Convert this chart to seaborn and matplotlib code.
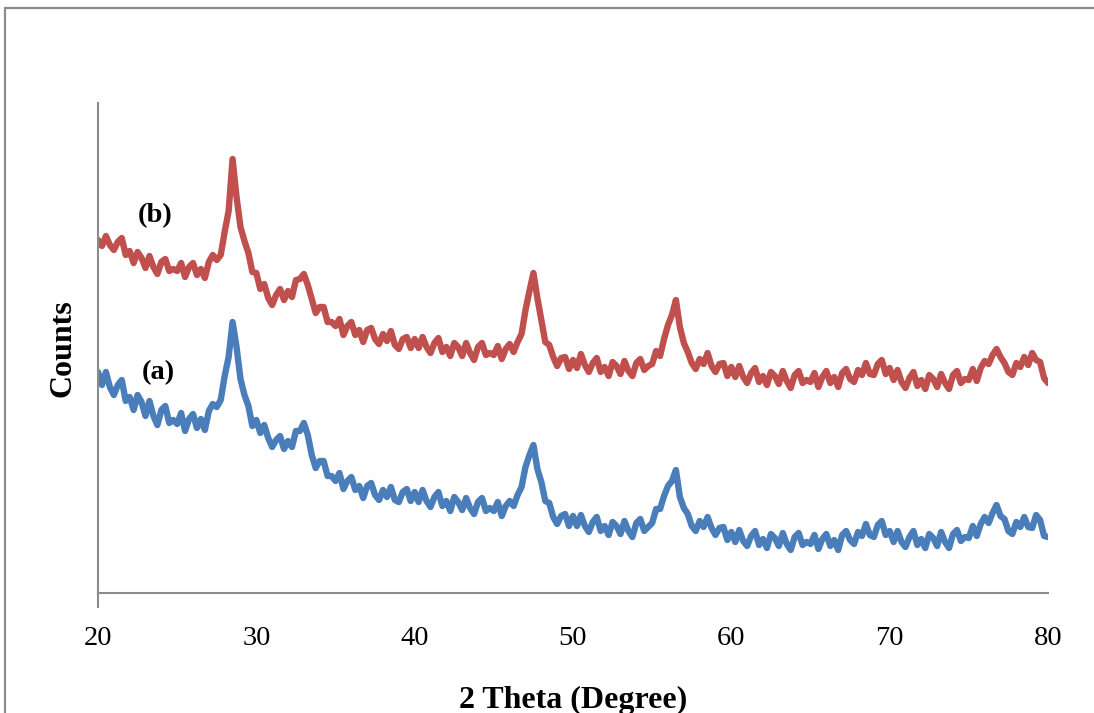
import pandas as pd
import matplotlib.pyplot as plt
import seaborn as sns
from matplotlib.lines import Line2D

# 2 theta grid, 20..80 in 0.25 degree steps
two_theta = [20 + 0.25 * i for i in range(241)]

# Sample (b), red trace (arbitrary counts, offset)
counts_b = [
    353, 347, 357, 348, 343, 351, 355, 338, 342, 330, 341, 335, 325, 337, 326, 319, 331, 334, 322, 324,  # 20-25
    322, 330, 316, 326, 330, 318, 324, 315, 331, 338, 333, 338, 361, 382, 434, 396, 366, 352, 340, 321,  # 25-30
    320, 304, 309, 295, 288, 298, 304, 293, 302, 296, 313, 314, 319, 308, 294, 280, 286, 286, 271, 271,  # 30-35
    267, 274, 258, 267, 271, 258, 263, 251, 263, 265, 254, 249, 259, 252, 262, 248, 244, 254, 256, 245,  # 35-40
    254, 245, 256, 246, 240, 250, 255, 241, 246, 237, 250, 246, 237, 250, 240, 233, 246, 250, 238, 240,  # 40-45
    238, 247, 234, 244, 249, 241, 251, 259, 283, 302, 320, 295, 273, 251, 248, 236, 227, 235, 236, 224,  # 45-50
    233, 225, 239, 228, 221, 230, 235, 221, 226, 217, 231, 227, 219, 232, 222, 217, 230, 234, 223, 227,  # 50-55
    229, 242, 237, 254, 268, 278, 293, 266, 250, 241, 230, 224, 234, 229, 240, 227, 221, 229, 230, 217,  # 55-60
    226, 216, 227, 216, 210, 220, 225, 211, 217, 208, 221, 217, 209, 222, 212, 205, 218, 222, 210, 213,  # 60-65
    211, 220, 206, 216, 222, 210, 216, 206, 220, 224, 214, 211, 223, 218, 230, 219, 218, 229, 233, 219,  # 65-70
    225, 213, 223, 211, 205, 215, 221, 207, 213, 204, 218, 214, 206, 219, 210, 204, 218, 222, 210, 214,  # 70-75
    213, 224, 212, 225, 232, 229, 238, 244, 236, 230, 221, 218, 230, 226, 236, 228, 240, 233, 231, 215,  # 75-80
    210,
]

# Sample (a), blue trace
counts_a = [
    221, 208, 221, 206, 198, 208, 213, 192, 196, 183, 198, 191, 177, 192, 177, 168, 183, 187, 170, 173,  # 20-25
    169, 180, 162, 174, 179, 165, 174, 163, 182, 189, 186, 193, 217, 236, 271, 246, 214, 198, 187, 167,  # 25-30
    173, 160, 168, 155, 146, 153, 157, 144, 152, 146, 162, 162, 170, 158, 138, 125, 132, 132, 117, 117,  # 30-35
    112, 120, 104, 112, 116, 103, 107, 95, 107, 110, 98, 93, 103, 96, 106, 93, 91, 101, 104, 92,  # 35-40
    101, 91, 103, 92, 86, 96, 101, 87, 92, 82, 96, 91, 83, 95, 85, 79, 91, 95, 82, 85,  # 40-45
    82, 91, 77, 87, 92, 87, 98, 106, 126, 138, 148, 124, 111, 92, 90, 76, 69, 77, 79, 67,  # 45-50
    77, 67, 78, 67, 61, 71, 76, 62, 67, 58, 71, 67, 59, 72, 62, 56, 70, 74, 62, 66,  # 50-55
    70, 84, 84, 97, 107, 112, 123, 96, 85, 79, 67, 62, 72, 66, 76, 65, 58, 65, 66, 53,  # 55-60
    61, 51, 63, 52, 47, 57, 62, 48, 54, 45, 59, 55, 47, 60, 49, 43, 56, 60, 48, 51,  # 60-65
    49, 58, 44, 54, 59, 47, 53, 43, 58, 62, 53, 49, 61, 57, 69, 58, 56, 68, 72, 58,  # 65-70
    62, 51, 62, 51, 46, 56, 62, 48, 54, 45, 59, 55, 47, 61, 51, 45, 59, 63, 52, 56,  # 70-75
    55, 67, 57, 69, 76, 70, 80, 88, 77, 74, 62, 59, 71, 66, 76, 66, 65, 78, 73, 57,  # 75-80
    56,
]

samples = ['(b)', '(a)']
sample_colors = {'(b)': '#C0504D', '(a)': '#4A7EBB'}

df = pd.concat([
    pd.DataFrame({'theta': two_theta, 'counts': counts_b, 'sample': '(b)'}),
    pd.DataFrame({'theta': two_theta, 'counts': counts_a, 'sample': '(a)'}),
])

sns.set_style("white")
plt.rcParams['font.family'] = ['Liberation Serif', 'DejaVu Serif']
plt.rcParams['text.color'] = 'black'
plt.rcParams['axes.labelcolor'] = 'black'

fig = plt.figure(figsize=(10.94, 7.13), dpi=100)
ax = fig.add_axes([98 / 1094, 120 / 713, 950 / 1094, 490 / 713])

sns.lineplot(data=df, x='theta', y='counts', hue='sample', palette=sample_colors,
             hue_order=samples, linewidth=4.6, legend=False, sort=False, ax=ax)

ax.set_xlim(20, 80)
ax.set_ylim(0, 490)
ax.set_xticks(range(20, 81, 10))
ax.set_yticks([])

axis_grey = '#8c8c8c'
for side in ['top', 'right']:
    ax.spines[side].set_visible(False)
for side in ['left', 'bottom']:
    ax.spines[side].set_color(axis_grey)
    ax.spines[side].set_linewidth(1.5)
ax.spines['left'].set_bounds(-14, 490)

ax.tick_params(axis='x', direction='in', length=8, width=1.2, color=axis_grey,
               labelsize=20.5, pad=24, labelcolor='black')

ax.set_xlabel('2 Theta (Degree)', fontsize=23, fontweight='bold', labelpad=25)
ax.set_ylabel('Counts', fontsize=23, fontweight='bold', labelpad=15)

# sample labels next to the traces
ax.text(23.6, 377, '(b)', fontsize=20.5, fontweight='bold', ha='center', va='center')
ax.text(23.8, 220, '(a)', fontsize=20.5, fontweight='bold', ha='center', va='center')

# outer chart-area border (cut off at right and bottom)
fig.add_artist(Line2D([5 / 1094, 1.0], [1 - 8 / 713, 1 - 8 / 713], color=axis_grey, lw=1.6))
fig.add_artist(Line2D([5 / 1094, 5 / 1094], [0, 1 - 8 / 713], color=axis_grey, lw=1.6))

fig.savefig('out.png', dpi=100)
